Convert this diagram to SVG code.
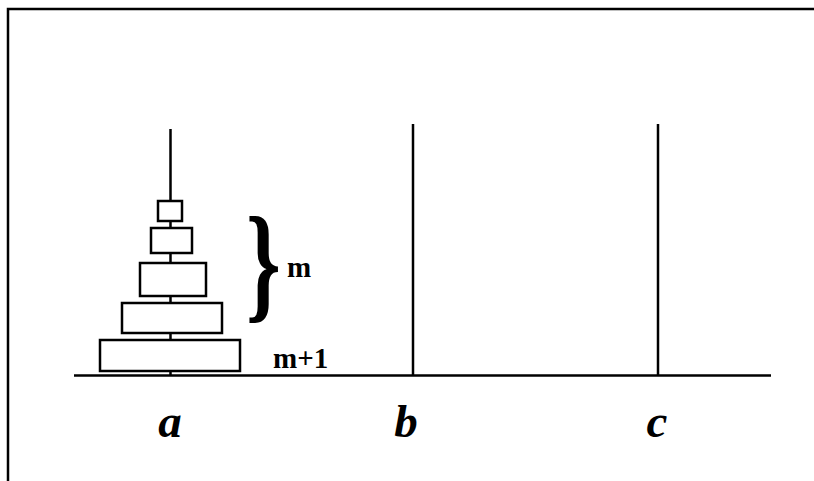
<svg xmlns="http://www.w3.org/2000/svg" width="814" height="481" viewBox="0 0 814 481">
<style>
.ln{stroke:#000;stroke-width:2.5;fill:none}
.disk{stroke:#000;stroke-width:2.5;fill:#fff}
.lbl{font-family:"Liberation Serif",serif;font-weight:bold;font-style:italic;font-size:47px;fill:#000;text-anchor:middle}
.num{font-family:"Liberation Serif",serif;font-weight:bold;font-size:29px;fill:#000}
</style>
<rect width="814" height="481" fill="#fff"/>
<g id="frame"><path class="ln" d="M8 481 V9 H814" stroke-width="3"/></g>
<g id="ground"><line class="ln" x1="74" y1="375.5" x2="771" y2="375.5" stroke-width="3"/></g>
<g id="peg-a"><line class="ln" x1="170.5" y1="129" x2="170.5" y2="375"/></g>
<g id="peg-b"><line class="ln" x1="413" y1="124" x2="413" y2="375"/></g>
<g id="peg-c"><line class="ln" x1="658" y1="124" x2="658" y2="375"/></g>
<g id="disks">
<rect class="disk" x="158" y="201" width="24" height="20"/>
<rect class="disk" x="151" y="228" width="41" height="25"/>
<rect class="disk" x="140" y="263" width="66" height="33"/>
<rect class="disk" x="122" y="303" width="100" height="30"/>
<rect class="disk" x="100" y="340" width="140" height="31"/>
</g>
<g id="brace"><text transform="translate(246,306) scale(0.68,1)" x="0" y="0" font-family="Liberation Serif, serif" font-weight="bold" font-size="130" fill="#000">}</text></g>
<g id="labels">
<text class="num" x="287" y="277">m</text>
<text class="num" x="273" y="368">m+1</text>
<text class="lbl" x="170" y="437">a</text>
<text class="lbl" x="406" y="437">b</text>
<text class="lbl" x="657" y="437">c</text>
</g>
</svg>
